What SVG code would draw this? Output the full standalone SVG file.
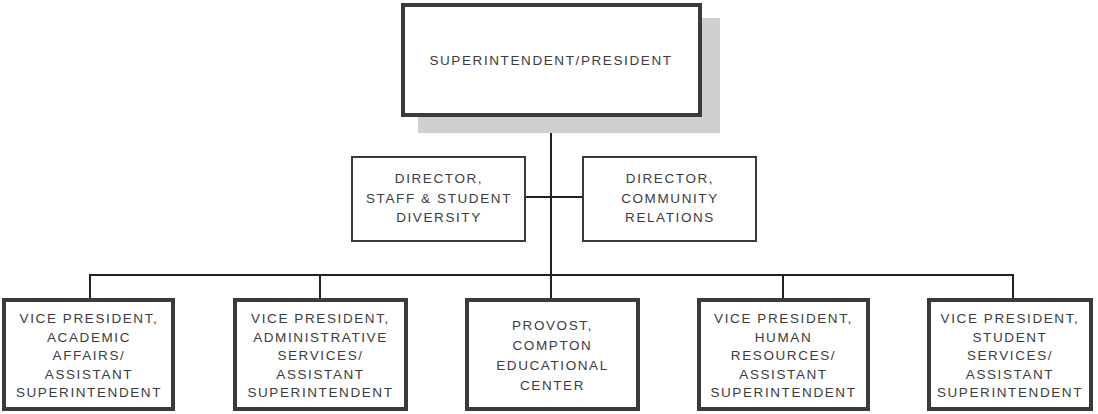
<svg xmlns="http://www.w3.org/2000/svg" width="1098" height="414" viewBox="0 0 1098 414">
<style>
.box{fill:#fff;stroke:#3a3a3a;stroke-width:4}
.thin{fill:#fff;stroke:#3a3a3a;stroke-width:2}
.t{font-family:"Liberation Sans",Arial,sans-serif;font-size:13.5px;fill:#3c3c3c;text-anchor:middle;letter-spacing:1.6px}
.c{stroke:#222;stroke-width:2;fill:none}
</style>
<rect width="1098" height="414" fill="#fff"/>
<g id="connectors">
<line class="c" x1="551" y1="115" x2="551" y2="276"/>
<line class="c" x1="526" y1="197" x2="582" y2="197"/>
<line class="c" x1="89" y1="275" x2="1014" y2="275"/>
<line class="c" x1="90" y1="274" x2="90" y2="298"/>
<line class="c" x1="320" y1="274" x2="320" y2="298"/>
<line class="c" x1="551" y1="274" x2="551" y2="298"/>
<line class="c" x1="783" y1="274" x2="783" y2="298"/>
<line class="c" x1="1013" y1="274" x2="1013" y2="298"/>
</g>
<g id="superintendent">
<rect x="418" y="18" width="302" height="115" fill="#cfcfcf"/>
<rect class="box" x="403" y="5" width="297" height="110"/>
<text class="t" x="551" y="65">SUPERINTENDENT/PRESIDENT</text>
</g>
<g id="dir-diversity">
<rect class="thin" x="352" y="157" width="173" height="84"/>
<text class="t" x="439" y="183">DIRECTOR,</text>
<text class="t" x="439" y="203">STAFF &amp; STUDENT</text>
<text class="t" x="439" y="222">DIVERSITY</text>
</g>
<g id="dir-community">
<rect class="thin" x="583" y="157" width="173" height="84"/>
<text class="t" x="670" y="183">DIRECTOR,</text>
<text class="t" x="670" y="203">COMMUNITY</text>
<text class="t" x="670" y="222">RELATIONS</text>
</g>
<g id="vp-academic">
<rect class="box" x="4" y="300" width="169" height="109"/>
<text class="t" x="89" y="323">VICE PRESIDENT,</text>
<text class="t" x="89" y="341.5">ACADEMIC</text>
<text class="t" x="89" y="360">AFFAIRS/</text>
<text class="t" x="89" y="378.5">ASSISTANT</text>
<text class="t" x="89" y="397">SUPERINTENDENT</text>
</g>
<g id="vp-admin">
<rect class="box" x="235" y="300" width="171" height="109"/>
<text class="t" x="320.5" y="323">VICE PRESIDENT,</text>
<text class="t" x="320.5" y="341.5">ADMINISTRATIVE</text>
<text class="t" x="320.5" y="360">SERVICES/</text>
<text class="t" x="320.5" y="378.5">ASSISTANT</text>
<text class="t" x="320.5" y="397">SUPERINTENDENT</text>
</g>
<g id="provost">
<rect class="box" x="467" y="300" width="171" height="109"/>
<text class="t" x="552.5" y="330">PROVOST,</text>
<text class="t" x="552.5" y="350">COMPTON</text>
<text class="t" x="552.5" y="370">EDUCATIONAL</text>
<text class="t" x="552.5" y="390">CENTER</text>
</g>
<g id="vp-hr">
<rect class="box" x="699" y="300" width="169" height="109"/>
<text class="t" x="783.5" y="323">VICE PRESIDENT,</text>
<text class="t" x="783.5" y="341.5">HUMAN</text>
<text class="t" x="783.5" y="360">RESOURCES/</text>
<text class="t" x="783.5" y="378.5">ASSISTANT</text>
<text class="t" x="783.5" y="397">SUPERINTENDENT</text>
</g>
<g id="vp-student">
<rect class="box" x="929" y="300" width="162" height="109"/>
<text class="t" x="1010" y="323">VICE PRESIDENT,</text>
<text class="t" x="1010" y="341.5">STUDENT</text>
<text class="t" x="1010" y="360">SERVICES/</text>
<text class="t" x="1010" y="378.5">ASSISTANT</text>
<text class="t" x="1010" y="397">SUPERINTENDENT</text>
</g>
</svg>
